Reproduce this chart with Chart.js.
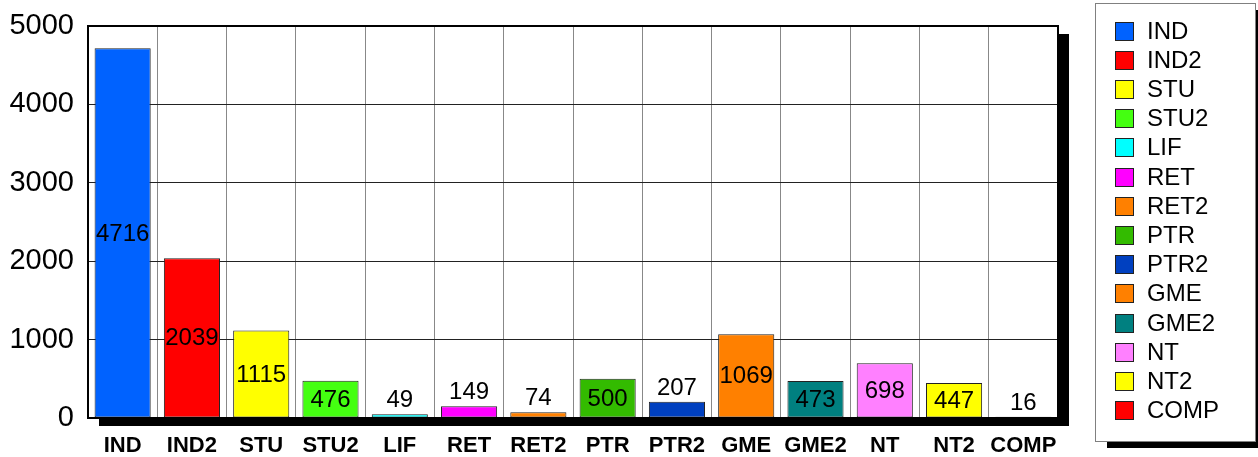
<!DOCTYPE html>
<html>
<head>
<meta charset="utf-8">
<script src="https://cdn.jsdelivr.net/npm/chart.js@4/dist/chart.umd.min.js"></script>
<style>
  html, body { margin: 0; padding: 0; background: #fff; }
  canvas { display: block; }
</style>
</head>
<body>
<canvas id="grafik" width="1258" height="457"></canvas>
<script>
// kategoriler ve degerler
const kategoriler = ['IND', 'IND2', 'STU', 'STU2', 'LIF', 'RET', 'RET2', 'PTR', 'PTR2', 'GME', 'GME2', 'NT', 'NT2', 'COMP'];
const degerler = [4716, 2039, 1115, 476, 49, 149, 74, 500, 207, 1069, 473, 698, 447, 16];
const renkler = ['#0062FF', '#FF0000', '#FFFF00', '#44FF11', '#00FFFF', '#FF00FF', '#FF8000', '#33BB00',
                 '#0040C0', '#FF8000', '#008080', '#FF80FF', '#FFFF00', '#FF0000'];
const yTikler = [0, 1000, 2000, 3000, 4000, 5000];

// Golge ve beyaz zemin
const golgePlugin = {
    id: 'golge',
    beforeDraw: function(chart) {
        const ctx = chart.ctx;
        const a = chart.chartArea;
        ctx.save();
        ctx.fillStyle = '#000';
        ctx.fillRect(a.left + 11, a.top + 8, a.right - a.left, a.bottom - a.top);
        ctx.fillStyle = '#fff';
        ctx.fillRect(a.left, a.top, a.right - a.left, a.bottom - a.top);
        ctx.restore();
    },
    afterDatasetsDraw: function(chart) {
        const ctx = chart.ctx;
        const a = chart.chartArea;
        ctx.save();
        ctx.strokeStyle = '#000';
        ctx.lineWidth = 2;
        ctx.strokeRect(a.left, a.top, a.right - a.left, a.bottom - a.top);
        ctx.restore();
    }
};

// Deger etiketleri
const etiketPlugin = {
    id: 'etiketler',
    afterDatasetsDraw: function(chart) {
        const ctx = chart.ctx;
        const meta = chart.getDatasetMeta(0);
        ctx.save();
        ctx.font = '24px Arial, "Liberation Sans", sans-serif';
        ctx.fillStyle = '#000';
        ctx.textAlign = 'center';
        meta.data.forEach(function(bar, i) {
            const yukseklik = bar.base - bar.y;
            const metin = String(degerler[i]);
            if (yukseklik > 26) {
                ctx.textBaseline = 'middle';
                ctx.fillText(metin, bar.x, (bar.y + bar.base) / 2 + 1);
            } else {
                ctx.textBaseline = 'alphabetic';
                ctx.fillText(metin, bar.x, bar.y - 7);
            }
        });
        ctx.restore();
    }
};

// Lejant kutusu
const lejantPlugin = {
    id: 'lejant',
    afterDraw: function(chart) {
        const ctx = chart.ctx;
        const x = 1095, y = 3, w = 160, h = 438;
        ctx.save();
        ctx.fillStyle = '#000';
        ctx.fillRect(x + 12, y + 7, w, h);
        ctx.fillStyle = '#fff';
        ctx.fillRect(x, y, w, h);
        ctx.strokeStyle = '#808080';
        ctx.lineWidth = 1;
        ctx.strokeRect(x + 0.5, y + 0.5, w, h);
        ctx.font = '24px Arial, "Liberation Sans", sans-serif';
        ctx.textBaseline = 'middle';
        ctx.textAlign = 'left';
        kategoriler.forEach(function(ad, i) {
            const cy = 31 + i * 29.2;
            ctx.fillStyle = renkler[i];
            ctx.fillRect(1115, Math.round(cy - 9.5), 19, 19);
            ctx.strokeStyle = '#222';
            ctx.strokeRect(1115.5, Math.round(cy - 9.5) + 0.5, 18, 18);
            ctx.fillStyle = '#000';
            ctx.fillText(ad, 1147, cy + 1);
        });
        ctx.restore();
    }
};

const ctx = document.getElementById('grafik').getContext('2d');
new Chart(ctx, {
    type: 'bar',
    data: {
        labels: kategoriler,
        datasets: [{
            data: degerler,
            backgroundColor: renkler,
            borderColor: '#222',
            borderWidth: 1,
            borderSkipped: false,
            barPercentage: 0.81,
            categoryPercentage: 1
        }]
    },
    options: {
        responsive: false,
        animation: false,
        devicePixelRatio: 1,
        layout: {
            padding: { left: 0, right: 200, top: 26, bottom: 0 }
        },
        scales: {
            x: {
                grid: { color: '#888', lineWidth: 1, drawTicks: false, offset: true },
                border: { display: false },
                ticks: {
                    color: '#000',
                    padding: 15,
                    maxRotation: 0,
                    autoSkip: false,
                    font: { family: 'Arial, "Liberation Sans", sans-serif', size: 22, weight: 'bold' }
                },
                afterFit: function(scale) {
                    scale.height = 39;
                    scale.paddingLeft = 0;
                    scale.paddingRight = 0;
                }
            },
            y: {
                min: 0,
                max: 5000,
                afterBuildTicks: function(scale) {
                    scale.ticks = yTikler.map(function(v) { return { value: v }; });
                },
                grid: { color: '#222', lineWidth: 1, drawTicks: false },
                border: { display: false },
                ticks: {
                    color: '#000',
                    padding: 14,
                    font: { family: 'Arial, "Liberation Sans", sans-serif', size: 29 },
                    callback: function(value) { return String(value); }
                },
                afterFit: function(scale) {
                    scale.width = 88;
                    scale.paddingTop = 0;
                    scale.paddingBottom = 0;
                }
            }
        },
        plugins: {
            legend: { display: false },
            tooltip: { enabled: false }
        }
    },
    plugins: [golgePlugin, etiketPlugin, lejantPlugin]
});
</script>
</body>
</html>
